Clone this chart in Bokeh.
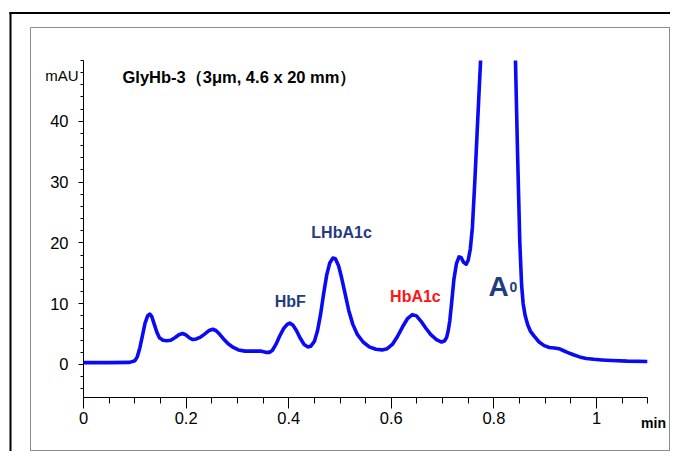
from bokeh.plotting import figure
from bokeh.models import FixedTicker, Label, BoxAnnotation, Range1d
from bokeh.embed import file_html
from bokeh.resources import INLINE

NAN = float("nan")  # A0 apex is off-scale (above 50 mAU) in the original

# ---- data ----
time_min = [0.000, 0.050, 0.090, 0.100, 0.105, 0.110, 0.115, 0.120, 0.125, 0.129,
            0.133, 0.138, 0.143, 0.148, 0.155, 0.162, 0.170, 0.178, 0.186, 0.193,
            0.199, 0.206, 0.213, 0.220, 0.228, 0.236, 0.245, 0.252, 0.258, 0.265,
            0.273, 0.282, 0.292, 0.302, 0.315, 0.330, 0.345, 0.355, 0.362, 0.368,
            0.375, 0.382, 0.390, 0.397, 0.402, 0.408, 0.415, 0.422, 0.430, 0.437,
            0.443, 0.450, 0.456, 0.462, 0.468, 0.474, 0.480, 0.486, 0.491, 0.497,
            0.503, 0.510, 0.517, 0.525, 0.534, 0.545, 0.557, 0.570, 0.582, 0.592,
            0.602, 0.612, 0.622, 0.632, 0.641, 0.649, 0.658, 0.667, 0.677, 0.688,
            0.698, 0.704, 0.708, 0.711, 0.714, 0.718, 0.722, 0.727, 0.732, 0.736,
            0.741, 0.746, 0.750, 0.754, 0.758, 0.763, 0.768, 0.774, 0.808,
            0.842, 0.846, 0.8505, 0.854, 0.857,
            0.861, 0.866, 0.871, 0.878, 0.888, 0.898, 0.908, 0.918, 0.927, 0.935,
            0.943, 0.955, 0.967, 0.980, 0.995, 1.010, 1.030, 1.060, 1.099]
signal_mau = [0.3, 0.3, 0.35, 0.6, 1.3, 2.8, 4.8, 6.8, 8.0, 8.3,
              7.9, 6.6, 5.3, 4.4, 4.0, 3.9, 4.0, 4.4, 4.9, 5.1,
              4.9, 4.4, 4.1, 4.2, 4.5, 5.0, 5.6, 5.8, 5.6, 5.0,
              4.2, 3.4, 2.8, 2.4, 2.2, 2.2, 2.2, 2.0, 2.0, 2.3,
              3.3, 4.6, 5.9, 6.6, 6.8, 6.5, 5.6, 4.4, 3.3, 2.9,
              3.0, 3.8, 5.5, 8.2, 11.6, 14.7, 16.7, 17.5, 17.4, 16.3,
              14.3, 11.6, 8.9, 6.6, 4.9, 3.7, 2.9, 2.5, 2.4, 2.6,
              3.3, 4.6, 6.2, 7.6, 8.2, 8.0, 7.1, 6.0, 4.9, 4.1,
              3.7, 3.9, 4.5, 5.6, 7.2, 10.5, 14.0, 16.6, 17.7, 17.6,
              16.8, 16.5, 17.2, 19.0, 22.5, 30.5, 39.5, 50.0, NAN,
              50.0, 35.0, 20.0, 13.0, 10.0,
              8.0, 6.5, 5.5, 4.7, 3.7, 3.1, 2.8, 2.7, 2.6, 2.3,
              2.0, 1.6, 1.25, 1.0, 0.85, 0.75, 0.65, 0.55, 0.5]

x_major_ticks = [0, 0.2, 0.4, 0.6, 0.8, 1.0]
x_minor_ticks = [0.05, 0.1, 0.15, 0.25, 0.3, 0.35, 0.45, 0.5, 0.55, 0.65, 0.7,
                 0.75, 0.85, 0.9, 0.95, 1.05, 1.1]
y_major_ticks = [0, 10, 20, 30, 40]
y_minor_ticks = [-4, -2, 2, 4, 6, 8, 12, 14, 16, 18, 22, 24, 26, 28, 32, 34, 36,
                 38, 42, 44, 46, 48, 50]
x_axis_extent = (0, 1.1)
y_axis_extent = (-5.4, 50)

title_text = "GlyHb-3（3μm, 4.6 x 20 mm）"
y_unit = "mAU"
x_unit = "min"
peak_names = ["HbF", "LHbA1c", "HbA1c"]
peak_colors = ["#1f3c80", "#1f3c80", "#ff1414"]

SANS = "Liberation Sans"
NAVY = "#1f3c80"

W, H = 670, 451
XR = (-0.1618, 1.1442)
YR = (-14.31, 59.87)


def sx(px):  # canvas pixel -> x data (layout helper for decorations)
    return XR[0] + px * (XR[1] - XR[0]) / W


def sy(py):  # canvas pixel -> y data
    return YR[1] - py * (YR[1] - YR[0]) / H


p = figure(width=W, height=H, output_backend="svg", toolbar_location=None,
           title=None, x_range=Range1d(*XR), y_range=Range1d(*YR),
           min_border=0, min_border_left=0, min_border_right=0,
           min_border_top=0, min_border_bottom=0)
p.outline_line_color = None
p.grid.visible = False

p.line(time_min, signal_mau, line_color="#0a0af5", line_width=3.6,
       line_join="round", line_cap="butt")


def bar(x0, x1, y0, y1, color):
    p.add_layout(BoxAnnotation(left=sx(x0), right=sx(x1), top=sy(y0),
                               bottom=sy(y1), fill_color=color, fill_alpha=1,
                               line_alpha=0, level="overlay"))


# black outer frame (only top/left inside the picture)
bar(9, W, 11.5, 13.5, "black")
bar(9, 11, 11.5, H, "black")
# grey inner frame
bar(30, W, 26.5, 27.5, "#8c8c8c")
bar(29.5, 30.5, 27, 450.5, "#8c8c8c")
bar(668.5, 669.5, 27, 450.5, "#8c8c8c")
bar(30, 669.5, 449.5, 450.5, "#8c8c8c")

for ax in (p.xaxis[0], p.yaxis[0]):
    ax.axis_line_color = "black"
    ax.axis_line_width = 1
    ax.major_tick_line_color = "black"
    ax.minor_tick_line_color = "black"
    ax.major_tick_in = 0
    ax.minor_tick_in = 0
    ax.major_label_text_font = SANS
    ax.major_label_text_font_size = "16.5px"
    ax.major_label_text_color = "black"

p.xaxis.fixed_location = y_axis_extent[0]
p.xaxis.bounds = x_axis_extent
p.xaxis.ticker = FixedTicker(ticks=x_major_ticks, minor_ticks=x_minor_ticks)
p.xaxis.major_tick_out = 11
p.xaxis.minor_tick_out = 6
p.xaxis.major_label_standoff = 4
p.xaxis.major_label_overrides = {0: "0", 1: "1"}

p.yaxis.fixed_location = x_axis_extent[0]
p.yaxis.bounds = y_axis_extent
p.yaxis.ticker = FixedTicker(ticks=y_major_ticks, minor_ticks=y_minor_ticks)
p.yaxis.major_tick_out = 5
p.yaxis.minor_tick_out = 3
p.yaxis.major_label_standoff = 10

p.add_layout(Label(x=sx(78), y=sy(75), text=y_unit, text_font=SANS,
                   text_font_size="15px", text_color="black",
                   text_baseline="middle", text_align="right"))
p.add_layout(Label(x=sx(122), y=sy(76), text=title_text, text_font=SANS,
                   text_font_style="bold", text_font_size="16.5px",
                   text_color="black", text_baseline="middle"))
p.add_layout(Label(x=sx(653), y=sy(422), text=x_unit, text_font=SANS,
                   text_font_style="bold", text_font_size="14px",
                   text_color="black", text_baseline="middle",
                   text_align="center"))

peak_pos = [(0.403, 10.4), (0.503, 21.7), (0.647, 11.2)]
for name, col, (px, py) in zip(peak_names, peak_colors, peak_pos):
    p.add_layout(Label(x=px, y=py, text=name, text_font=SANS,
                       text_font_style="bold", text_font_size="16px",
                       text_color=col, text_align="center",
                       text_baseline="middle"))

p.add_layout(Label(x=sx(488), y=sy(286), text="A", text_font=SANS,
                   text_font_style="bold", text_font_size="28px",
                   text_color=NAVY, text_baseline="alphabetic"))
p.add_layout(Label(x=sx(509), y=sy(286), text="0", text_font=SANS,
                   text_font_style="bold", text_font_size="14px",
                   text_color=NAVY, text_baseline="alphabetic"))

open("out.html", "w").write(file_html(p, INLINE))
